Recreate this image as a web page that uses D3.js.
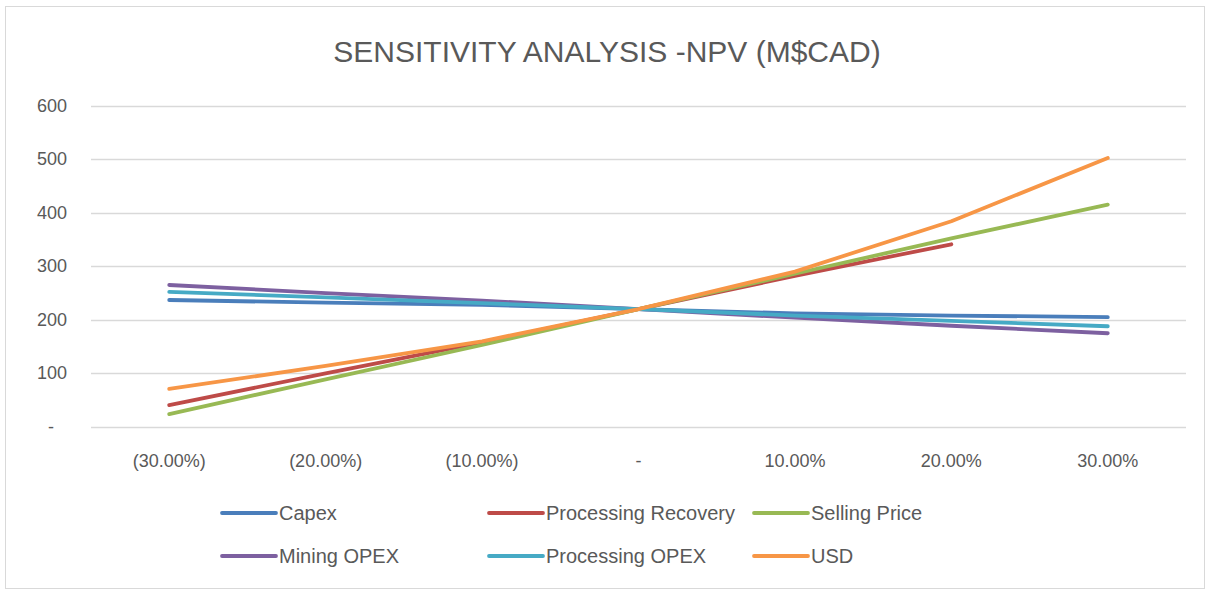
<!DOCTYPE html>
<html><head><meta charset="utf-8">
<script src="https://cdn.jsdelivr.net/npm/d3@7"></script>
<style>
html,body{margin:0;padding:0;background:#fff;}
svg{display:block;}
text{font-family:"Liberation Sans Narrow","Arial Narrow","Liberation Sans",sans-serif;fill:#595959;}
</style></head>
<body><svg id="c" width="1210" height="590"></svg>
<script>
const categories = ["(30.00%)","(20.00%)","(10.00%)","-","10.00%","20.00%","30.00%"];
const capex = [237, 232, 228, 220, 212, 208, 205];
const processingRecovery = [41, 100, 158, 220, 282, 341, null];
const sellingPrice = [24, 89, 153, 220, 286, 352, 415];
const miningOpex = [265, 250, 236, 220, 204, 189, 175];
const processingOpex = [252, 242, 231, 220, 208, 198, 188];
const usd = [71, 114, 160, 220, 290, 384, 502];
const yTicks = [0, 100, 200, 300, 400, 500, 600];
const yTickLabels = ["-", "100", "200", "300", "400", "500", "600"];
const title = "SENSITIVITY  ANALYSIS -NPV (M$CAD)";

const series = [
  {name:"Capex", values:capex, color:"#4a7ebb"},
  {name:"Processing Recovery", values:processingRecovery, color:"#be4b48"},
  {name:"Selling Price", values:sellingPrice, color:"#98b954"},
  {name:"Mining OPEX", values:miningOpex, color:"#7d60a0"},
  {name:"Processing OPEX", values:processingOpex, color:"#46aac5"},
  {name:"USD", values:usd, color:"#f79646"}
];

const svg = d3.select("#c");
svg.append("rect").attr("x",5.5).attr("y",6.5).attr("width",1199).attr("height",582)
  .attr("fill","#fff").attr("stroke","#d9d9d9").attr("stroke-width",1);

const x = d3.scaleBand().domain(categories).range([91,1186]).padding(0);
const y = d3.scaleLinear().domain([0,600]).range([427,105.5]);

svg.append("text").attr("x",607).attr("y",62).attr("text-anchor","middle")
  .style("font-size","30px").text(title);

// gridlines
svg.append("g").selectAll("line").data(yTicks).join("line")
  .attr("x1",91).attr("x2",1186)
  .attr("y1",d=>Math.round(y(d))+0.5).attr("y2",d=>Math.round(y(d))+0.5)
  .attr("stroke","#d9d9d9").attr("stroke-width",1.3);

// y labels
svg.append("g").selectAll("text").data(yTicks).join("text")
  .attr("x",(d,i)=> d===0 ? 54 : 67)
  .attr("y",d=>y(d)+6).attr("text-anchor","end")
  .style("font-size","18px").text((d,i)=>yTickLabels[i]);

// x labels
const xAxis = d3.axisBottom(x).tickSize(0).tickPadding(0);
const gx = svg.append("g").attr("transform","translate(0,427)").call(xAxis);
gx.select(".domain").remove();
gx.selectAll("text").attr("dy",null).attr("y",40).style("font-size","18px")
  .style("font-family",'"Liberation Sans Narrow","Arial Narrow","Liberation Sans",sans-serif')
  .attr("fill","#595959");

const line = d3.line()
  .defined(d=>d.v!==null)
  .x(d=>x(d.c)+x.bandwidth()/2).y(d=>y(d.v));

svg.append("g").selectAll("path").data(series).join("path")
  .attr("d",s=>line(s.values.map((v,i)=>({c:categories[i],v}))))
  .attr("fill","none").attr("stroke",s=>s.color).attr("stroke-width",3.8)
  .attr("stroke-linecap","round").attr("stroke-linejoin","round");

// legend
const legX = [222, 489, 754];
const legY = [513, 556];
const lg = svg.append("g").selectAll("g").data(series).join("g")
  .attr("transform",(s,i)=>`translate(${legX[i%3]},${legY[Math.floor(i/3)]})`);
lg.append("line").attr("x1",0).attr("x2",54).attr("y1",0).attr("y2",0)
  .attr("stroke",s=>s.color).attr("stroke-width",3.8).attr("stroke-linecap","round");
lg.append("text").attr("x",57).attr("y",7).style("font-size","20px").text(s=>s.name);
</script></body></html>
